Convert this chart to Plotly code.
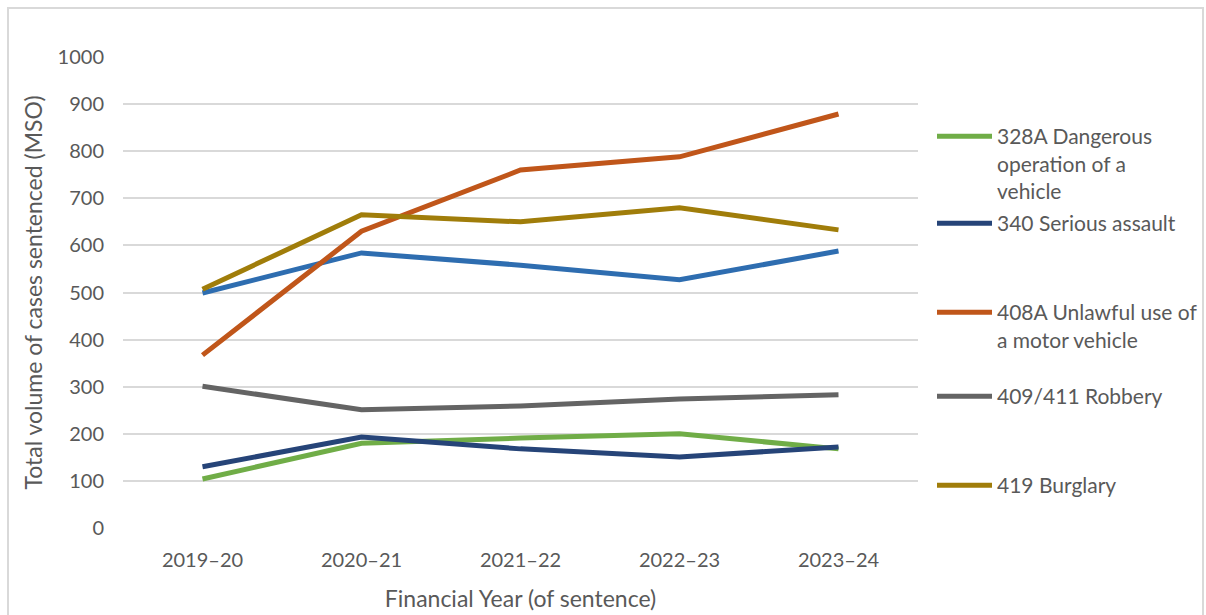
import plotly.graph_objects as go

years = ["2019–20", "2020–21", "2021–22", "2022–23", "2023–24"]

s328a = [104, 180, 191, 200, 168]
s340 = [130, 193, 168, 151, 172]
s408a = [367, 630, 760, 788, 879]
s409 = [301, 251, 259, 274, 283]
s419 = [507, 665, 650, 680, 633]
s_unlabelled = [499, 584, 558, 527, 588]

names = [
    "328A Dangerous<br>operation of a<br>vehicle",
    "340 Serious assault",
    "408A Unlawful use of<br>a motor vehicle",
    "409/411 Robbery",
    "419 Burglary",
]
colors = ["#70AD47", "#264478", "#C0561A", "#646464", "#A07D0A"]
series = [s328a, s340, s408a, s409, s419]
legend_ids = ["legend", "legend2", "legend3", "legend4", "legend5"]

FONT = "Lato"
TXT = "#595959"

fig = go.Figure()
# unlabelled blue series (no legend entry in the original)
fig.add_trace(go.Scatter(x=years, y=s_unlabelled, mode="lines",
                         line=dict(color="#2E6DB0", width=5),
                         showlegend=False, hoverinfo="y"))
order = [3, 0, 1, 2, 4]
for i in order:
    fig.add_trace(go.Scatter(x=years, y=series[i], mode="lines", name=names[i],
                             line=dict(color=colors[i], width=5),
                             legend=legend_ids[i]))

L, R, T, B = 123, 288, 57, 87
W, H = 1206, 615
pw = W - L - R
ph = H - T - B

def py(p):
    return (H - B - p) / ph

def px(p):
    return (p - L) / pw

legend_tops = [120, 207, 296, 380, 469]
leg_common = dict(x=px(932), xanchor="left", yanchor="top", bgcolor="rgba(0,0,0,0)",
                  font=dict(family=FONT, size=21, color=TXT), valign="top",
                  itemwidth=55, tracegroupgap=0)
layout_legends = {}
for lid, top in zip(legend_ids, legend_tops):
    layout_legends[lid] = dict(leg_common, y=py(top - 4))

fig.update_layout(
    width=W, height=H,
    margin=dict(l=L, r=R, t=T, b=B, autoexpand=False),
    paper_bgcolor="white", plot_bgcolor="white",
    font=dict(family=FONT, color=TXT),
    showlegend=True,
    **layout_legends,
    xaxis=dict(
        type="category", range=[-0.5, 4.5], showgrid=False, zeroline=False,
        showline=False, ticks="", ticklabelstandoff=18,
        tickfont=dict(family=FONT, size=20, color=TXT),
        title=dict(text="Financial Year (of sentence)", font=dict(family=FONT, size=23, color=TXT), standoff=20),
    ),
    yaxis=dict(
        range=[0, 1000], tickvals=list(range(0, 1001, 100)), showgrid=True,
        gridcolor="#D9D9D9", gridwidth=2, zeroline=False, showline=False, ticks="",
        ticklabelstandoff=18,
        tickfont=dict(family=FONT, size=20, color=TXT),
        title=dict(text="Total volume of cases sentenced (MSO)", font=dict(family=FONT, size=23, color=TXT), standoff=8),
    ),
    shapes=[dict(type="rect", xref="paper", yref="paper",
                 x0=px(8), x1=px(1203), y0=py(640), y1=py(8),
                 line=dict(color="#D9D9D9", width=2), fillcolor="rgba(0,0,0,0)", layer="below")],
)

fig.write_html("out.html")
